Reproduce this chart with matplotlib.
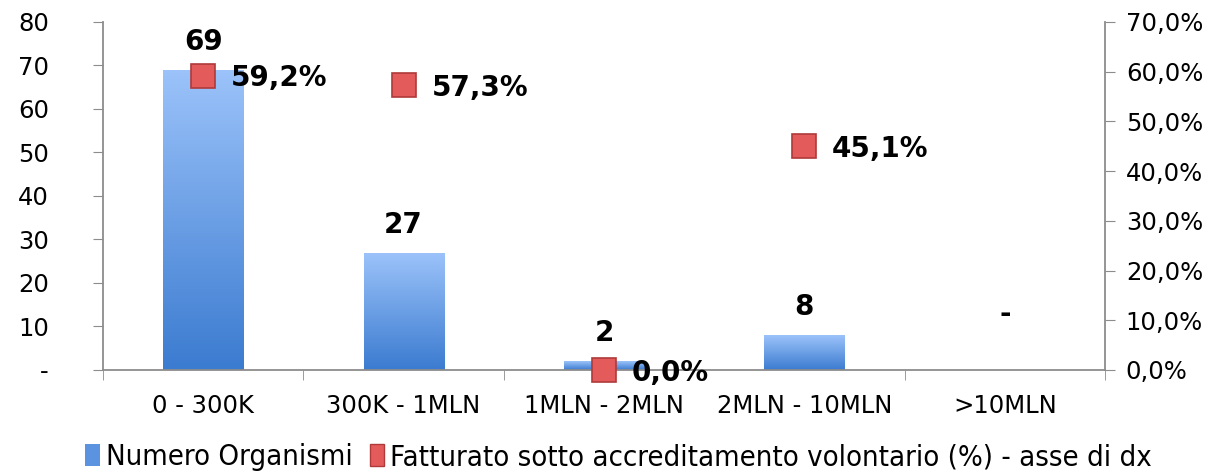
import numpy as np
import matplotlib.pyplot as plt
from matplotlib.colors import LinearSegmentedColormap
from matplotlib.patches import Patch

# Dati
categorie = ['0 - 300K', '300K - 1MLN', '1MLN - 2MLN', '2MLN - 10MLN', '>10MLN']
numero_organismi = [69, 27, 2, 8, 0]
etichette_barre = ['69', '27', '2', '8', '-']
fatturato_pct = [59.2, 57.3, 0.0, 45.1, np.nan]
etichette_pct = ['59,2%', '57,3%', '0,0%', '45,1%', '']

plt.rcParams['font.family'] = ['DejaVu Sans']
fs = 17.5
fsb = 20
grigio = '#8c8c8c'

fig = plt.figure(figsize=(12.25, 4.73), dpi=100)
ax = fig.add_axes([0.0841, 0.2178, 0.8179, 0.7357])
x = np.arange(len(categorie))

# Barre con sfumatura
blu = LinearSegmentedColormap.from_list('blu', ['#3b7bd0', '#9cc3fa'])
grad = np.linspace(0, 1, 256).reshape(-1, 1)
barre = ax.bar(x, numero_organismi, width=0.4, color='none', zorder=2)
for b in barre:
    h = b.get_height()
    if h <= 0:
        continue
    x0, w = b.get_x(), b.get_width()
    im = ax.imshow(grad, cmap=blu, origin='lower', aspect='auto',
                   extent=[x0, x0 + w, 0, h], zorder=2)
    im.set_clip_path(b)

ax.set_xlim(-0.5, len(categorie) - 0.5)
ax.set_ylim(0, 80)
ax.set_yticks(np.arange(0, 81, 10))
ax.set_yticklabels(['-'] + [str(v) for v in range(10, 81, 10)])
ax.set_xticks(x)
ax.set_xticklabels(categorie)
ax.set_xticks(np.arange(-0.5, len(categorie)), minor=True)
ax.tick_params(axis='x', which='major', length=0, labelsize=fs, pad=17)
ax.tick_params(axis='x', which='minor', length=7, color=grigio, direction='out')
ax.tick_params(axis='y', length=7, color=grigio, labelsize=fs, pad=32)
for s in ['left', 'bottom']:
    ax.spines[s].set_color(grigio)
    ax.spines[s].set_linewidth(1.3)
for s in ['top', 'right']:
    ax.spines[s].set_visible(False)

for i, (v, t) in enumerate(zip(numero_organismi, etichette_barre)):
    off = 30 if v == 0 else 10
    ax.annotate(t, (i, v), xytext=(0, off), textcoords='offset points',
                ha='center', va='bottom', fontsize=fsb, fontweight='bold')

# Asse destro
ax2 = ax.twinx()
ax2.set_ylim(0, 70)
ax2.set_yticks(np.arange(0, 71, 10))
ax2.set_yticklabels([f'{v},0%' for v in range(0, 71, 10)])
ax2.tick_params(axis='y', length=7, color=grigio, labelsize=fs, pad=8)
ax2.spines['right'].set_color(grigio)
ax2.spines['right'].set_linewidth(1.3)
for s in ['top', 'left', 'bottom']:
    ax2.spines[s].set_visible(False)

ax2.plot(x, fatturato_pct, linestyle='none', marker='s', markersize=17,
         markerfacecolor='#e35b5b', markeredgecolor='#b03a3a',
         markeredgewidth=1.2, zorder=3, clip_on=False)
for i, (v, t) in enumerate(zip(fatturato_pct, etichette_pct)):
    if t:
        ax2.annotate(t, (i, v), xytext=(20, -2), textcoords='offset points',
                     ha='left', va='center', fontsize=fsb, fontweight='bold')

# Legenda
maniglie = [Patch(facecolor='#5b93e0', edgecolor='none'),
            Patch(facecolor='#e35b5b', edgecolor='#b03a3a')]
fig.legend(maniglie, ['Numero Organismi',
                      'Fatturato sotto accreditamento volontario (%) - asse di dx'],
           loc='center', bbox_to_anchor=(0.505, 0.033), ncol=2, frameon=False,
           prop={'size': 21, 'stretch': 'condensed'}, handlelength=0.5,
           handleheight=0.8, handletextpad=0.2, columnspacing=0.6)

fig.savefig('out.png', dpi=100)
